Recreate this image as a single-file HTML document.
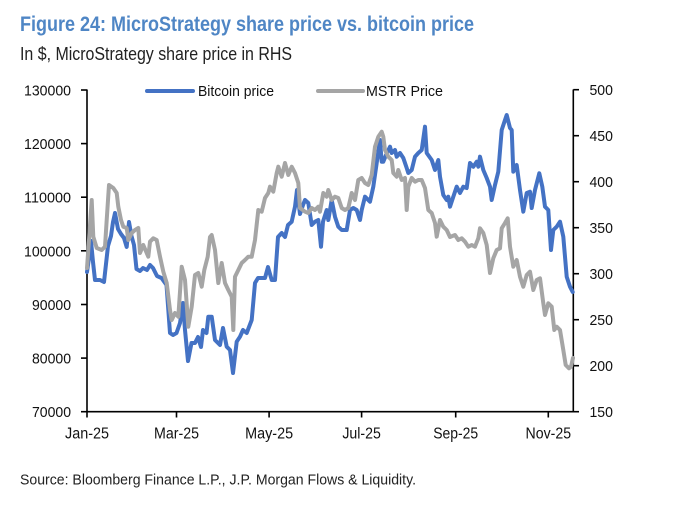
<!DOCTYPE html>
<html><head><meta charset="utf-8"><style>
html,body{margin:0;padding:0;background:#fff;}
svg{display:block;}
text{font-family:"Liberation Sans",Arial,sans-serif;}
</style></head><body>
<svg width="674" height="505" viewBox="0 0 674 505" xmlns="http://www.w3.org/2000/svg">
<rect width="674" height="505" fill="#fff"/>
<text x="20" y="31" font-size="21" font-weight="bold" fill="#4f86c5" textLength="454" lengthAdjust="spacingAndGlyphs">Figure 24: MicroStrategy share price vs. bitcoin price</text>
<text x="20" y="60" font-size="18.5" fill="#222" textLength="272" lengthAdjust="spacingAndGlyphs">In $, MicroStrategy share price in RHS</text>

<!-- legend -->
<line x1="147" y1="91" x2="193" y2="91" stroke="#4472c4" stroke-width="4" stroke-linecap="round"/>
<text x="198" y="96" font-size="15" fill="#111" textLength="76" lengthAdjust="spacingAndGlyphs">Bitcoin price</text>
<line x1="318" y1="91" x2="363" y2="91" stroke="#a5a5a5" stroke-width="4" stroke-linecap="round"/>
<text x="366" y="96" font-size="15" fill="#111" textLength="77" lengthAdjust="spacingAndGlyphs">MSTR Price</text>

<!-- axes -->
<g stroke="#000" stroke-width="1.6" fill="none">
<line x1="87" y1="89.5" x2="87" y2="412"/>
<line x1="573.3" y1="89.5" x2="573.3" y2="412"/>
<line x1="86.2" y1="411.7" x2="574.1" y2="411.7"/>
<!-- left ticks -->
<line x1="81" y1="90" x2="87" y2="90"/>
<line x1="81" y1="143.6" x2="87" y2="143.6"/>
<line x1="81" y1="197.2" x2="87" y2="197.2"/>
<line x1="81" y1="250.8" x2="87" y2="250.8"/>
<line x1="81" y1="304.5" x2="87" y2="304.5"/>
<line x1="81" y1="358.1" x2="87" y2="358.1"/>
<line x1="81" y1="411.7" x2="87" y2="411.7"/>
<!-- right ticks -->
<line x1="573.3" y1="89.7" x2="579" y2="89.7"/>
<line x1="573.3" y1="135.7" x2="579" y2="135.7"/>
<line x1="573.3" y1="181.7" x2="579" y2="181.7"/>
<line x1="573.3" y1="227.7" x2="579" y2="227.7"/>
<line x1="573.3" y1="273.7" x2="579" y2="273.7"/>
<line x1="573.3" y1="319.7" x2="579" y2="319.7"/>
<line x1="573.3" y1="365.7" x2="579" y2="365.7"/>
<line x1="573.3" y1="411.7" x2="579" y2="411.7"/>
<!-- x ticks -->
<line x1="87" y1="411.7" x2="87" y2="417.5"/>
<line x1="176.5" y1="411.7" x2="176.5" y2="417.5"/>
<line x1="269.1" y1="411.7" x2="269.1" y2="417.5"/>
<line x1="361.6" y1="411.7" x2="361.6" y2="417.5"/>
<line x1="455.7" y1="411.7" x2="455.7" y2="417.5"/>
<line x1="548.3" y1="411.7" x2="548.3" y2="417.5"/>
</g>

<!-- left labels -->
<g font-size="15" fill="#111" text-anchor="end">
<text x="71" y="95.5" textLength="47" lengthAdjust="spacingAndGlyphs">130000</text>
<text x="71" y="149.1" textLength="47" lengthAdjust="spacingAndGlyphs">120000</text>
<text x="71" y="202.7" textLength="47" lengthAdjust="spacingAndGlyphs">110000</text>
<text x="71" y="256.3" textLength="47" lengthAdjust="spacingAndGlyphs">100000</text>
<text x="71" y="310" textLength="39" lengthAdjust="spacingAndGlyphs">90000</text>
<text x="71" y="363.6" textLength="39" lengthAdjust="spacingAndGlyphs">80000</text>
<text x="71" y="417.2" textLength="39" lengthAdjust="spacingAndGlyphs">70000</text>
</g>
<!-- right labels -->
<g font-size="15" fill="#111">
<text x="589.5" y="95.2" textLength="23.4" lengthAdjust="spacingAndGlyphs">500</text>
<text x="589.5" y="141.2" textLength="23.4" lengthAdjust="spacingAndGlyphs">450</text>
<text x="589.5" y="187.2" textLength="23.4" lengthAdjust="spacingAndGlyphs">400</text>
<text x="589.5" y="233.2" textLength="23.4" lengthAdjust="spacingAndGlyphs">350</text>
<text x="589.5" y="279.2" textLength="23.4" lengthAdjust="spacingAndGlyphs">300</text>
<text x="589.5" y="325.2" textLength="23.4" lengthAdjust="spacingAndGlyphs">250</text>
<text x="589.5" y="371.2" textLength="23.4" lengthAdjust="spacingAndGlyphs">200</text>
<text x="589.5" y="417.2" textLength="23.4" lengthAdjust="spacingAndGlyphs">150</text>
</g>
<!-- x labels -->
<g font-size="15.5" fill="#111" text-anchor="middle">
<text x="87" y="438.5" textLength="44" lengthAdjust="spacingAndGlyphs">Jan-25</text>
<text x="176.5" y="438.5" textLength="45" lengthAdjust="spacingAndGlyphs">Mar-25</text>
<text x="269.1" y="438.5" textLength="48" lengthAdjust="spacingAndGlyphs">May-25</text>
<text x="361.6" y="438.5" textLength="38.5" lengthAdjust="spacingAndGlyphs">Jul-25</text>
<text x="455.7" y="438.5" textLength="45" lengthAdjust="spacingAndGlyphs">Sep-25</text>
<text x="548.3" y="438.5" textLength="45.5" lengthAdjust="spacingAndGlyphs">Nov-25</text>
</g>

<text x="20" y="484.5" font-size="15" fill="#222" textLength="396" lengthAdjust="spacingAndGlyphs">Source: Bloomberg Finance L.P., J.P. Morgan Flows &amp; Liquidity.</text>

<!-- Bitcoin -->
<polyline fill="none" stroke="#4472c4" stroke-width="4" stroke-linejoin="round" stroke-linecap="round" points="87,272 89,258 91,241 93,262 95,280 100,280 104,282 106,264 108,246 111,236 113,222 115,213 118,229 121,234 124,238 126.7,247 129,222 131.5,236 134,245 136.5,269 140,271 143,268 147,270 150,265 153,268 157,276 161.5,278 166.5,285 170,333 173,335 176.5,333 180,323 183,303 185,330 188,361 191.5,343 195,343 198,337 201,347 203,330 206.5,333 208.3,316.7 211.7,316.7 215,340 220,345 223,328 226.7,346.7 230,350 233,373 236.7,341.7 240,336.7 243,330 246.7,333 251.7,320 255,283 258,278 261.7,278 265,278 268,267 271.7,280 275,280 278,237 281.7,233 285,237 288,225 291.7,221.7 295,206.7 297,190 300,214 303,205 305,200 308.3,203 311.7,225 315,221.7 318.3,220 321,246.7 323,221.7 326.7,210 328.3,220 331.7,200 335,216.7 338.3,226.7 341.7,230 346.7,230 350,210 353.3,208 356.7,210 360,220 361.7,210 365,196.7 370,201.7 373.3,186.7 376.7,163 380,140 381.7,161.7 383.3,161.7 386,155 390,146.7 391.7,153 395,150 396.7,156.7 400,153 403.3,158 406.7,168 408.3,173 411.7,170 415,156.7 418.3,153 421.7,150 425,126.7 426.7,153 431.7,160 435,170 438.3,160 440,176.7 443.3,195 446.7,200 448.3,196.7 450,206.7 453.3,196.7 456.7,186.7 460,193 463.3,186.7 466.7,188 470,163 473.3,166.7 476.7,161.7 478.3,166.7 480,156.7 483.3,170 486.7,178 490,186.7 491.7,200 495,185 498.3,171.7 501.7,130 505,120 506.7,115 510,128 511.7,130 513.3,171.7 516.7,165 520,190 523.3,211.7 526.7,193 530,191.7 531.7,208 535,190 539.3,173.3 542.3,186.7 545,206.7 548.3,210 551,250 553.3,230 556.7,226.7 560,221.7 563.3,236.7 566.7,276.7 570,286.7 572.7,292"/>

<!-- MSTR -->
<polyline fill="none" stroke="#a5a5a5" stroke-width="4" stroke-linejoin="round" stroke-linecap="round" points="87,268 89,240 91.7,200 93.3,236.7 96.7,248 101.7,250 105,246.7 106.7,220 109,185 113.3,188 116.7,193 118.3,206.7 121,220 123.3,226.7 126.7,228 128.3,240 131.7,233 135,230 138.3,228 140,253 143.3,245 146.7,253 148.3,256.7 150,241.7 153.3,238.3 156.7,240 160,256.7 163.3,271.7 166.7,283 170,310 171.7,320 175,313 178.3,316.7 181.7,266.7 185,280 188.3,326.7 191.7,306.7 195,275 198.3,273 201.7,286.7 204.3,270 207.7,256.7 210,237 211.7,235 215,250 218.3,283 221.7,263 225,283 228.3,290 231.7,296.7 233.3,330 235,276.7 238.3,270 241.7,263 245,260 248.3,256.7 251.7,256.7 255,240 258.3,210 261.7,211.7 265,198 268.3,193 270,186.7 273.3,191.7 276.7,173 278.3,166.7 281.7,176.7 285,163 288.3,175 291.7,166.7 295,173 298.3,183 300,208 305,211.7 308.3,213 311.7,208 315,210 318.3,206.7 320,211.7 323.3,193 326.7,196.7 328.3,190 331.7,200 335,196.7 338.3,198 341.7,208 345,210 348.3,208 351.7,193 355,200 358.3,180 361.7,178 365,183 368.3,185 371.7,175 375,146.7 378.3,136.7 381.7,131.7 383.3,136.7 385,150 388.3,156.7 391.7,160 393.3,173 396.7,176.7 398.3,170 401.7,180 405,178 406.7,210 408.3,186.7 411.7,178 415,181.7 418.3,180 421.7,180 425,188 428.3,210 431.7,213 435,223 436.7,236.7 440,220 443.3,226.7 446.7,230 450,237 455,235 458.3,240 461.7,238.3 465,241.7 468.3,246.7 471.7,245 475,246.7 478.3,238.3 480,228.3 483.3,233 486.7,245 490,273 493.3,258.3 496.7,250 500,248.3 501.7,228.3 505,223 507.7,218.3 510,246.7 513.3,266.7 516.7,260 520,276.7 523.3,286.7 526.7,275 530,271.7 533.3,290 536.7,280 540,278.3 543.3,303.3 545,315 548.3,303.3 551.7,306.7 554.3,330 556.7,326.7 560,330 563.3,350 565.7,365 569,368.3 571,366.7 573,358"/>
</svg>
</body></html>
